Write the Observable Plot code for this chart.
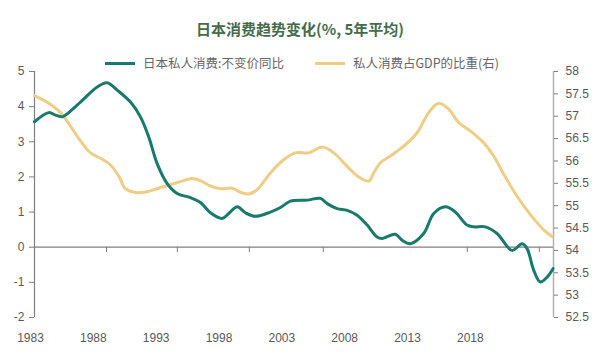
<!DOCTYPE html>
<html>
<head>
<meta charset="utf-8">
<script src="https://cdn.jsdelivr.net/npm/d3@7"></script>
<script src="https://cdn.jsdelivr.net/npm/@observablehq/plot@0.6"></script>
<style>
  html, body { margin: 0; padding: 0; background: #fff; }
  #wrap { position: relative; width: 600px; height: 353px; overflow: hidden; font-family: "Noto Sans CJK SC", "Noto Sans", sans-serif; }
  #title { position: absolute; top: 19px; left: 0; width: 600px; text-align: center; font-size: 15px; line-height: 20px; font-weight: bold; color: #466a4c; }
  #legend { position: absolute; top: 54px; left: 105px; height: 18px; display: flex; align-items: center; font-size: 12.5px; color: #666; line-height: 18px; }
  .sw { width: 30px; height: 3px; margin-right: 8px; }
  .item { display: flex; align-items: center; }
  #chart { position: absolute; top: 50px; left: 0; }
</style>
</head>
<body>
<div id="wrap">
  <div id="chart"></div>
  <div id="title">日本消费趋势变化(%, 5年平均)</div>
  <div id="legend"></div>
</div>
<script>
// Series names
const seriesNames = ["日本私人消费:不变价同比", "私人消费占GDP的比重(右)"];
const seriesColors = ["#177a6b", "#f0cd84"];

// 日本私人消费:不变价同比 (left axis, %)
const consYear = [1983.0, 1984.14, 1984.67, 1985.2, 1985.47, 1986.66, 1987.99, 1988.78, 1989.58, 1990.64, 1991.43, 1992.09, 1992.76, 1993.56, 1994.35, 1995.41, 1996.21, 1997.0, 1997.93, 1998.46, 1999.13, 1999.79, 2000.58, 2001.77, 2002.57, 2003.37, 2004.69, 2005.75, 2006.29, 2007.08, 2007.88, 2008.67, 2009.47, 2010.26, 2010.66, 2011.72, 2012.25, 2012.91, 2013.97, 2014.77, 2015.7, 2016.49, 2017.42, 2017.95, 2018.88, 2019.81, 2021.0, 2021.8, 2022.2, 2022.72, 2023.25, 2023.79, 2024.26];
const consGrowth = [3.57, 3.83, 3.76, 3.71, 3.76, 4.13, 4.56, 4.68, 4.47, 4.13, 3.71, 3.14, 2.38, 1.81, 1.53, 1.41, 1.27, 0.98, 0.82, 0.96, 1.15, 0.98, 0.88, 1.0, 1.13, 1.31, 1.34, 1.39, 1.24, 1.1, 1.05, 0.91, 0.63, 0.29, 0.25, 0.37, 0.2, 0.1, 0.39, 0.96, 1.15, 1.0, 0.63, 0.58, 0.58, 0.39, -0.09, 0.1, -0.04, -0.65, -0.99, -0.85, -0.61];

// 私人消费占GDP的比重 (right axis, %)
const shareYear = [1983.0, 1984.01, 1985.07, 1985.86, 1986.66, 1987.46, 1988.25, 1989.05, 1989.71, 1990.24, 1990.9, 1991.7, 1992.76, 1993.82, 1994.88, 1995.55, 1996.21, 1997.0, 1997.8, 1998.73, 1999.39, 2000.05, 2000.72, 2001.77, 2002.71, 2003.76, 2004.82, 2005.89, 2006.81, 2007.88, 2008.8, 2009.6, 2009.99, 2010.53, 2011.32, 2012.38, 2013.45, 2014.37, 2015.16, 2015.96, 2016.75, 2017.69, 2018.74, 2019.54, 2020.34, 2021.4, 2022.46, 2023.52, 2024.19];
const shareGdp = [57.46, 57.31, 57.08, 56.78, 56.45, 56.18, 56.06, 55.91, 55.66, 55.38, 55.3, 55.3, 55.38, 55.47, 55.56, 55.61, 55.56, 55.44, 55.38, 55.39, 55.3, 55.26, 55.36, 55.73, 56.0, 56.18, 56.18, 56.31, 56.18, 55.88, 55.64, 55.55, 55.73, 55.96, 56.11, 56.33, 56.63, 57.08, 57.29, 57.16, 56.86, 56.67, 56.41, 56.11, 55.7, 55.21, 54.8, 54.46, 54.31];

// Tick labels
const xTicks = [1983, 1988, 1993, 1998, 2003, 2008, 2013, 2018];
const leftTicks = [-2, -1, 0, 1, 2, 3, 4, 5];
const rightTicks = [52.5, 53, 53.5, 54, 54.5, 55, 55.5, 56, 56.5, 57, 57.5, 58];
const zeroLineTicks = [1988.73, 1994.37, 2000.1, 2005.98, 2017.44, 2023.17];

const xDomain = [1983, 2024.3];
const leftDomain = [-2, 5];
const rightDomain = [52.5, 58];
const toLeft = r => leftDomain[0] + (r - rightDomain[0]) * (leftDomain[1] - leftDomain[0]) / (rightDomain[1] - rightDomain[0]);
const fromLeft = v => rightDomain[0] + (v - leftDomain[0]) * (rightDomain[1] - rightDomain[0]) / (leftDomain[1] - leftDomain[0]);

const cons = consYear.map((y, i) => ({year: y, value: consGrowth[i]}));
const share = shareYear.map((y, i) => ({year: y, value: toLeft(shareGdp[i])}));

const axisFont = "'Liberation Sans', Arial, sans-serif";

const chart = Plot.plot({
  width: 600,
  height: 303,
  marginLeft: 34,
  marginRight: 47,
  marginTop: 21,
  marginBottom: 36,
  style: {background: "transparent", fontFamily: axisFont, fontSize: "12px", overflow: "visible"},
  x: {domain: xDomain, label: null},
  y: {domain: leftDomain, label: null},
  marks: [
    Plot.ruleY([0], {stroke: "#7f7f7f", strokeWidth: 1.2}),
    Plot.ruleX(zeroLineTicks, {x: d => d, y1: 0, y2: -0.15, stroke: "#7f7f7f", strokeWidth: 1}),
    Plot.ruleX([xDomain[0]], {y1: leftDomain[0], y2: leftDomain[1], stroke: "#7f7f7f", strokeWidth: 1.2}),
    Plot.ruleX([xDomain[1]], {y1: leftDomain[0], y2: leftDomain[1], stroke: "#b0b0b0", strokeWidth: 1.5}),
    Plot.axisY({anchor: "left", ticks: leftTicks, tickFormat: d => String(d), tickSize: 5, tickPadding: 5, stroke: "#7f7f7f", color: "#595959", label: null}),
    Plot.axisY({anchor: "right", ticks: rightTicks.map(toLeft), tickFormat: d => String(Math.round(fromLeft(d) * 10) / 10), tickSize: 4, tickPadding: 8, stroke: "#7f7f7f", color: "#595959", label: null}),
    Plot.axisX({anchor: "bottom", ticks: xTicks, tickFormat: d => String(d), tickSize: 0, tickPadding: 16, dx: -4, color: "#595959", label: null}),
    Plot.line(share, {x: "year", y: "value", stroke: seriesColors[1], strokeWidth: 3, curve: "catmull-rom"}),
    Plot.line(cons, {x: "year", y: "value", stroke: seriesColors[0], strokeWidth: 3, curve: "catmull-rom"})
  ]
});
document.getElementById("chart").appendChild(chart);

const legend = document.getElementById("legend");
seriesNames.forEach((name, i) => {
  const item = document.createElement("div");
  item.className = "item";
  if (i > 0) item.style.marginLeft = "31px";
  const sw = document.createElement("div");
  sw.className = "sw";
  sw.style.background = seriesColors[i];
  const tx = document.createElement("span");
  tx.textContent = name;
  item.appendChild(sw);
  item.appendChild(tx);
  legend.appendChild(item);
});
</script>
</body>
</html>
